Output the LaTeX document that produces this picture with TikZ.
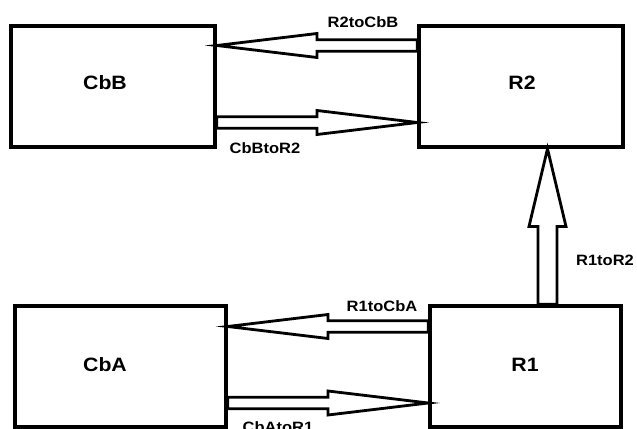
\documentclass[tikz,border=0pt]{standalone}
\usepackage{fontspec}
\newfontfamily\diagfont[FakeStretch=1.1]{Liberation Sans}
\usetikzlibrary{calc,positioning}

\begin{document}
\begin{tikzpicture}[x=0.03cm, y=-0.03cm,
	% Node styles
	unit/.style={
		rectangle,
		draw=black,
		line width=3pt,
		inner sep=0pt
	},
	unitname/.style={
		font=\diagfont\bfseries\fontsize{16.5}{19}\selectfont,
		inner sep=0pt
	},
	flowname/.style={
		font=\diagfont\bfseries\fontsize{12.8}{15}\selectfont,
		inner sep=0pt
	},
	% Hollow block arrow: #1 half shaft, #2 half head
	blockarrow/.style 2 args={
		draw=black,
		fill=white,
		line width=2.4pt,
		line join=miter,
		to path={
			($(\tikztostart)!#1!90:(\tikztotarget)$)
			-- ($($(\tikztostart)!.5!(\tikztotarget)$)!#1!90:(\tikztotarget)$)
			-- ($($(\tikztostart)!.5!(\tikztotarget)$)!#2!90:(\tikztotarget)$)
			-- (\tikztotarget)
			-- ($($(\tikztostart)!.5!(\tikztotarget)$)!#2!-90:(\tikztotarget)$)
			-- ($($(\tikztostart)!.5!(\tikztotarget)$)!#1!-90:(\tikztotarget)$)
			-- ($(\tikztostart)!#1!-90:(\tikztotarget)$)
			-- cycle
		}
	}
	]
	
	\useasboundingbox (0,0) rectangle (637,429);
	
	% Boxes
	\node[unit, minimum width=6.12cm, minimum height=3.63cm] (cbb) at (113,86.5) {};
	\node[unit, minimum width=6.12cm, minimum height=3.63cm] (r2) at (521,86.5) {};
	\node[unit, minimum width=6.33cm, minimum height=3.63cm] (cba) at (120.5,366.5) {};
	\node[unit, minimum width=5.73cm, minimum height=3.63cm] (r1) at (525.5,366.5) {};
	
	\node[unitname] (cbbname) at (105,83) {CbB};
	\node[unitname] (r2name) at (522,83) {R2};
	\node[unitname] (cbaname) at (105,365) {CbA};
	\node[unitname] (r1name) at (525,365) {R1};
	
	% Arrow ends on the boxes
	\coordinate (r2out) at ($(r2.west)+(0,-41)$);
	\coordinate (cbbin) at ($(cbb.east)+(0,-41)$);
	\coordinate (cbbout) at ($(cbb.east)+(0,36)$);
	\coordinate (r2in) at ($(r2.west)+(0,36)$);
	\coordinate (r1out) at ($(r1.west)+(0,-40)$);
	\coordinate (cbain) at ($(cba.east)+(0,-40)$);
	\coordinate (cbaout) at ($(cba.east)+(0,36.5)$);
	\coordinate (r1in) at ($(r1.west)+(0,36.5)$);
	\coordinate (r1up) at (r1.north -| 547.5,0);
	\coordinate (r2down) at (r2.south -| 547.5,0);
	
	% Block arrows
	\draw[blockarrow={0.175cm}{0.36cm}] (r2out) to (cbbin);
	\draw[blockarrow={0.175cm}{0.36cm}] (cbbout) to (r2in);
	\draw[blockarrow={0.175cm}{0.36cm}] (r1out) to (cbain);
	\draw[blockarrow={0.175cm}{0.36cm}] (cbaout) to (r1in);
	\draw[blockarrow={0.285cm}{0.555cm}] (r1up) to (r2down);
	
	% Labels
	\node[flowname] (r2tocbb) at (363,22.5) {R2toCbB};
	\node[flowname] (cbbtor2) at (265,148) {CbBtoR2};
	\node[flowname] (r1tor2) at (605,260) {R1toR2};
	\node[flowname] (r1tocba) at (382,306) {R1toCbA};
	\node[flowname] (cbator1) at (278,427) {CbAtoR1};
	
\end{tikzpicture}
\end{document}
